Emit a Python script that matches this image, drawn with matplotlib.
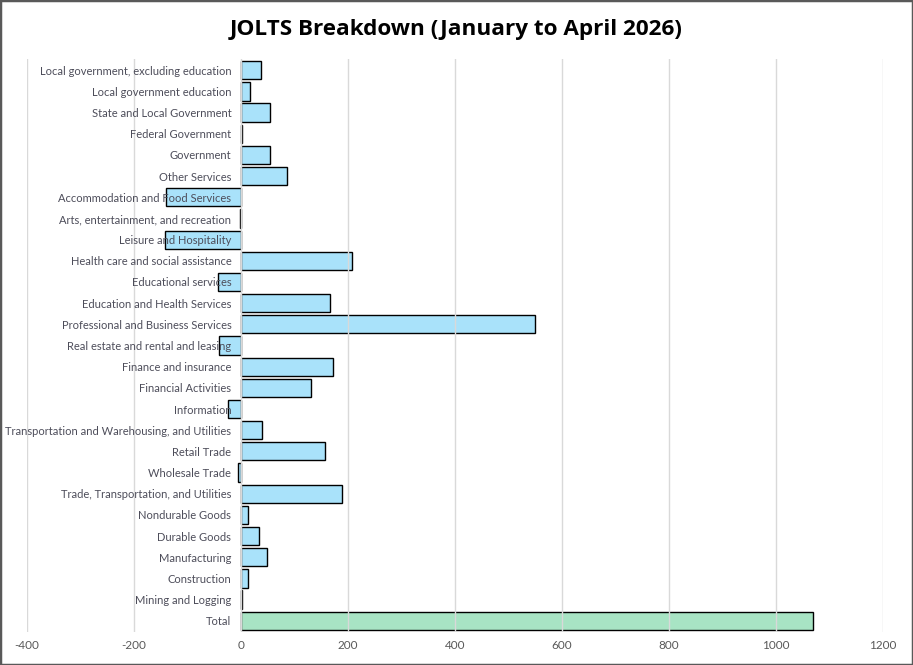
import matplotlib
matplotlib.use("Agg")
import matplotlib.pyplot as plt
from matplotlib.patches import Rectangle

categories = [
    "Local government, excluding education",
    "Local government education",
    "State and Local Government",
    "Federal Government",
    "Government",
    "Other Services",
    "Accommodation and Food Services",
    "Arts, entertainment, and recreation",
    "Leisure and Hospitality",
    "Health care and social assistance",
    "Educational services",
    "Education and Health Services",
    "Professional and Business Services",
    "Real estate and rental and leasing",
    "Finance and insurance",
    "Financial Activities",
    "Information",
    "Transportation and Warehousing, and Utilities",
    "Retail Trade",
    "Wholesale Trade",
    "Trade, Transportation, and Utilities",
    "Nondurable Goods",
    "Durable Goods",
    "Manufacturing",
    "Construction",
    "Mining and Logging",
    "Total",
]
values = [37, 17, 54, 2, 55, 86, -141, -2, -142, 207, -43, 166, 550, -41,
          172, 131, -24, 39, 157, -5, 189, 13, 34, 49, 13, 2, 1069]
xticks = [-400, -200, 0, 200, 400, 600, 800, 1000, 1200]
title = "JOLTS Breakdown (January to April 2026)"

W, H = 913, 665
fig = plt.figure(figsize=(W / 100, H / 100), dpi=100)
ax = fig.add_axes([27 / W, 1 - 632 / H, (883 - 27) / W, (632 - 59) / H])

n = len(categories)
ypos = list(range(n))[::-1]
colors = ["#A9E2FA"] * (n - 1) + ["#A8E4C4"]
ax.barh(ypos, values, height=0.86, color=colors, edgecolor="black",
        linewidth=1.0, zorder=1)

ax.set_xlim(-400, 1200)
ax.set_ylim(-0.53, n - 0.47)
ax.set_xticks(xticks)
ax.set_xticklabels([str(t) for t in xticks])
ax.set_yticks(ypos)
ax.set_yticklabels(categories)
ax.set_axisbelow(False)
ax.grid(axis="x", color="#D9D9D9", linewidth=1.0)
ax.grid(axis="y", visible=False)

for s in ax.spines.values():
    s.set_visible(False)
ax.spines["left"].set_position(("data", 0))
ax.tick_params(axis="both", length=0)
ax.tick_params(axis="x", pad=6, labelsize=8.5, labelcolor="#595959")
ax.tick_params(axis="y", pad=7, labelsize=8.0, labelcolor="#4D4D5A")
for lab in ax.get_yticklabels() + ax.get_xticklabels():
    lab.set_fontfamily("Lato")

fig.text(456 / W, 1 - 29 / H, title, ha="center", va="center",
         fontsize=16.2, fontweight="bold", family="Open Sans", color="black")

fig.patches.append(Rectangle((0, 0), 1, 1, transform=fig.transFigure,
                             fill=False, edgecolor="#595959", linewidth=2.5))

fig.savefig("out.png", dpi=100)
